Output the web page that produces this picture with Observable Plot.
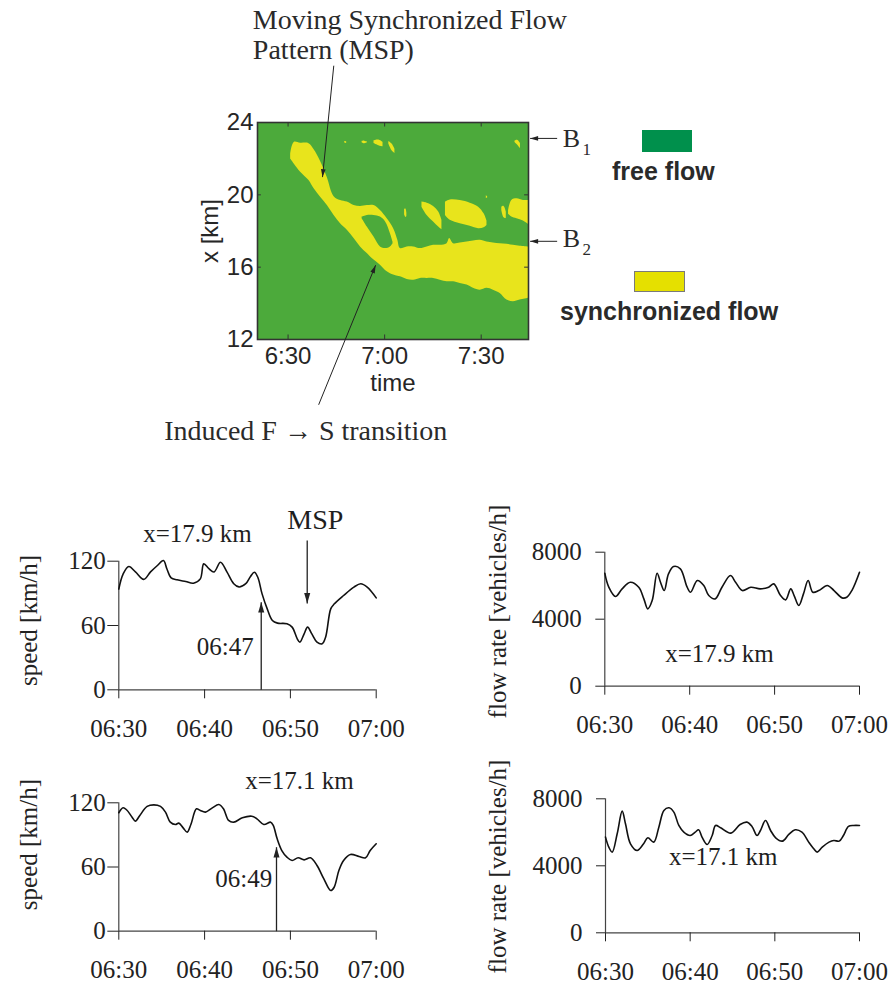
<!DOCTYPE html>
<html><head><meta charset="utf-8">
<script src="https://cdn.jsdelivr.net/npm/d3@7"></script>
<script src="https://cdn.jsdelivr.net/npm/@observablehq/plot@0.6"></script>
<style>
body{margin:0;background:#fff;}
#root{position:relative;width:893px;height:989px;overflow:hidden;background:#fff;}
.leg{position:absolute;font-family:"Liberation Sans",Arial,sans-serif;font-weight:bold;font-size:25px;color:#2a2a2a;white-space:nowrap;line-height:1;}
.sw{position:absolute;box-sizing:border-box;}
</style></head><body><div id="root"></div>
<script>
const SERIF = "Liberation Serif, Times New Roman, serif";
const SANS = "Liberation Sans, Arial, sans-serif";
const freeGreen = "#4caa3b";
const syncYellow = "#e8e41c";

// ---- space-time diagram (x: minutes after 06:00, y: road location km) ----
const heatTicks = [30, 60, 90];
const heatTickLabels = ["6:30", "7:00", "7:30"];
const kmTicks = [12, 16, 20, 24];
// main synchronized region (MSP + induced pattern): [minute, lower km, upper km]
const syncMain = [
  [30.8,21.98,22.26],[31.9,21.71,22.90],[33.9,21.25,22.85],[36.5,20.79,22.83],[38.1,20.33,22.50],
  [40.1,19.87,21.85],[42.2,19.41,20.95],[44.3,18.86,19.90],[46.3,18.40,19.69],[48.4,18.04,19.60],
  [50.5,17.58,19.41],[52.5,17.12,19.36],[54.6,16.75,19.41],[56.7,16.39,19.41],[58.7,16.11,19.14],
  [60.8,15.74,18.68],[62.8,15.56,18.13],[64.1,15.50,17.49],[64.9,15.47,17.03],[67.0,15.32,17.12],
  [69.0,15.28,17.12],[71.1,15.38,17.03],[73.2,15.38,17.12],[75.2,15.38,17.21],[77.3,15.28,17.21],
  [79.4,15.19,17.30],[80.2,15.19,17.58],[81.4,15.19,17.30],[83.5,15.10,17.34],[85.6,15.01,17.39],
  [87.6,14.83,17.45],[89.7,14.73,17.49],[91.8,14.83,17.39],[93.8,14.73,17.34],[95.9,14.55,17.30],
  [98.0,14.18,17.27],[100.0,14.09,17.21],[102.1,14.18,17.16],[104.7,14.28,17.12]
];
// free-flow island inside the synchronized region
const freeIsland = [
  [53.0,18.68,18.77],[54.6,18.22,18.86],[56.7,17.67,18.86],[58.7,17.12,18.77],
  [60.3,17.03,18.50],[61.8,17.12,17.85],[62.6,17.30,17.39]
];
// smaller synchronized patches: [id, minute, lower km, upper km]
const syncPatches = [
  ["a",71.6,19.32,19.60],["a",73.2,18.86,19.54],["a",75.2,18.50,19.36],["a",76.8,18.22,19.05],["a",77.8,18.07,18.59],
  ["b",78.9,18.86,19.60],["b",80.4,18.59,19.72],["b",83.5,18.40,19.69],["b",86.6,18.26,19.54],["b",89.2,18.13,19.32],["b",90.9,18.18,18.95],["b",91.8,18.31,18.55],
  ["c",98.5,18.92,19.10],["c",99.5,18.77,19.69],["c",101.1,18.68,19.78],["c",103.1,18.55,19.69],["c",104.7,18.37,19.69],
  ["d",96.4,19.14,19.32],["d",97.1,18.73,19.36],["d",97.8,18.68,19.05],
  ["e",66.2,18.90,19.20],["e",66.6,18.75,19.22],["e",66.9,18.80,19.00],
  ["f",91.6,19.80,19.95],["f",92.0,19.82,19.90],
  ["g",47.6,22.86,22.95],["g",48.2,22.84,22.94],
  ["h",53.0,22.88,22.95],["h",53.8,22.82,22.97],["h",54.6,22.86,22.93],
  ["i",56.7,22.84,22.99],["i",58.2,22.72,23.03],["i",59.5,22.66,22.90],
  ["j",61.3,22.81,22.95],["j",62.3,22.44,22.81],["j",63.2,22.29,22.53],
  ["k",100.5,22.90,22.98],["k",101.3,22.75,23.02],["k",102.2,22.55,22.85]
];
// annotation arrows [x1, y1, x2, y2] in (minute, km)
const heatArrows = [[44.2,27.14,40.7,20.98],[39.5,8.39,57.2,16.11],[113.6,23.12,105.2,23.12],[113.6,17.43,105.2,17.43]];
// annotation texts [text, minute, km (baseline), size]
const heatNotes = [
  ["Moving Synchronized Flow",19.06,29.19,28],["Pattern (MSP)",19.06,27.53,28],
  ["Induced F \u2192 S transition",-8.5,6.46,28],
  ["B",115.35,22.62,26],["1",121.5,22.18,17],["B",115.35,17.10,26],["2",121.5,16.66,17]
];

// ---- time series (x: minutes after 06:00) ----
const timeTicks = [30, 40, 50, 60];
const timeTickLabels = ["06:30","06:40","06:50","07:00"];
const speedTicks = [0, 60, 120];
const flowTicks = [0, 4000, 8000];
const speed179 = [[30,94],[30.5,108],[31.17,115],[31.94,110],[32.9,103],[33.7,110],[34.5,116],[35.2,120.6],[35.6,113],[36.1,104.5],[36.8,102.6],[37.8,101],[38.7,99.5],[39.5,103.5],[39.9,117.5],[40.5,113],[41.1,110],[41.85,119],[42.6,110],[43.4,99],[44.0,96],[44.8,99],[45.35,105.7],[45.8,109.7],[46.2,105],[46.7,89.5],[47.3,75.5],[47.9,64.7],[48.5,62.2],[49.6,61.6],[50.2,58.5],[50.8,47.6],[51.1,44.5],[51.6,52.2],[52.0,58.5],[52.5,52.2],[53.1,44.5],[53.7,42.9],[54.1,49],[54.7,75.5],[55.1,80],[56.2,88],[57.4,95.8],[58.2,98.9],[58.95,95.8],[60,85.8]];
const flow179 = [[30,6746],[30.47,5910],[31.26,5353],[32.04,5811],[33.0,6209],[34.0,5910],[34.6,5214],[35.06,4617],[35.58,5114],[36.16,6746],[36.56,6209],[37.0,5711],[37.5,6706],[38.1,7144],[38.9,7005],[39.7,5910],[40.1,5612],[40.9,6308],[41.66,6010],[42.25,5413],[43.0,5214],[43.8,5910],[44.8,6607],[45.4,6209],[46.2,5711],[47.2,5910],[48.3,5811],[49.3,5910],[49.9,6109],[50.7,5413],[51.3,5154],[51.9,5811],[52.3,5413],[52.85,4816],[53.4,5512],[53.95,6308],[54.5,5612],[55.2,5711],[56.2,6010],[57.0,5711],[57.95,5274],[58.5,5313],[59.1,5711],[60,6806]];
const speed171 = [[30,110.7],[30.5,115.3],[30.9,113.5],[31.55,106.6],[31.94,102.9],[32.45,108.2],[33.3,116.6],[34.08,118.1],[34.86,116.6],[35.44,111.3],[36.0,101.9],[36.6,99.7],[37.0,101],[37.5,96.6],[37.97,92.6],[38.4,99.7],[39.05,114.4],[39.5,112.8],[40.1,111.3],[40.9,115.3],[41.66,118.4],[42.2,114.4],[42.8,103.5],[43.4,101.9],[44.4,106],[45.5,107.5],[46.1,105],[46.9,99.7],[47.7,101.9],[48.0,98.8],[48.46,86.3],[49.0,75.4],[49.6,69.2],[50.2,66.1],[50.9,68.6],[51.6,66.7],[52.35,68.6],[53.1,61.4],[53.9,48.9],[54.7,38],[55.1,41.1],[55.65,56.7],[56.2,66.1],[57.0,71.7],[58.0,69.8],[58.76,68.6],[59.3,75.4],[60,81.7]];
const flow171 = [[30,5711],[30.39,5114],[30.79,4816],[31.38,5910],[31.97,7263],[32.36,6507],[32.95,5313],[33.74,4915],[34.5,5313],[35.0,5672],[35.7,5413],[36.3,6308],[36.9,7303],[37.5,7462],[38.07,7204],[38.66,6408],[39.25,6010],[40.0,5811],[40.6,6010],[41.0,6149],[41.4,5711],[42.0,5274],[42.6,5811],[43.0,6408],[43.6,6269],[44.8,5950],[45.9,6467],[46.7,6607],[47.3,6348],[47.9,5811],[48.3,6109],[48.9,6706],[49.5,6109],[50.1,5672],[50.9,5473],[51.65,5871],[52.4,6149],[53.2,6010],[54.0,5413],[54.6,5015],[55.0,4816],[55.6,5114],[56.4,5413],[56.97,5512],[57.6,5473],[58.1,5811],[58.7,6348],[59.3,6408],[60,6408]];

const root = document.getElementById("root");
function fixMarkers(svg){
  svg.querySelectorAll("marker").forEach(m => {
    const c = m.getAttribute("stroke") || "#222";
    m.setAttribute("fill", c); m.setAttribute("stroke", "none"); m.setAttribute("overflow", "visible");
    const p = m.querySelector("path"); if (p) p.setAttribute("d", "M-12,-3.5L0,0L-12,3.5Z");
  });
}
function place(el, left, top, w, h){
  const d = document.createElement("div");
  d.style.cssText = `position:absolute;left:${left}px;top:${top}px;width:${w}px;height:${h}px;`;
  d.appendChild(el); root.appendChild(d); fixMarkers(el);
}

// ---- top: space-time diagram ----
const heat = Plot.plot({
  width: 893, height: 450, marginLeft: 257, marginRight: 365, marginTop: 122, marginBottom: 111,
  style: {fontFamily: SANS, fontSize: "24px", color: "#262626", background: "transparent", overflow: "visible"},
  x: {domain: [20.5, 104.7]}, y: {domain: [12, 24]},
  marks: [
    Plot.frame({fill: freeGreen}),
    Plot.areaY(syncMain, {x: d => d[0], y1: d => d[1], y2: d => d[2], fill: syncYellow, curve: "catmull-rom"}),
    Plot.areaY(freeIsland, {x: d => d[0], y1: d => d[1], y2: d => d[2], fill: freeGreen, curve: "catmull-rom"}),
    Plot.areaY(syncPatches, {x: d => d[1], y1: d => d[2], y2: d => d[3], z: d => d[0], fill: syncYellow, curve: "catmull-rom"}),
    Plot.ruleX(heatTicks, {y1: 24, y2: 23.75, stroke: "#333"}),
    Plot.ruleX(heatTicks, {y1: 12, y2: 12.25, stroke: "#333"}),
    Plot.ruleY([16, 20], {x1: 20.5, x2: 21.7, stroke: "#333"}),
    Plot.ruleY([16, 20], {x1: 104.7, x2: 103.5, stroke: "#333"}),
    Plot.frame({stroke: "#333", strokeWidth: 1.6}),
    Plot.axisX(heatTicks, {tickFormat: d => heatTickLabels[heatTicks.indexOf(d)], tickSize: 0, tickPadding: 7, label: null, fontFamily: SANS, fontSize: 24}),
    Plot.axisY(kmTicks, {tickSize: 0, tickPadding: 4, label: null, fontFamily: SANS, fontSize: 24}),
    Plot.text(["time"], {text: d => d, frameAnchor: "bottom", dy: 44, lineAnchor: "middle", textAnchor: "middle", fontFamily: SANS, fontSize: 24}),
    Plot.text(["x [km]"], {text: d => d, frameAnchor: "left", dx: -47, rotate: -90, textAnchor: "middle", lineAnchor: "middle", fontFamily: SANS, fontSize: 24}),
    Plot.link(heatArrows, {x1: d => d[0], y1: d => d[1], x2: d => d[2], y2: d => d[3], stroke: "#222", strokeWidth: 1, markerEnd: "arrow"}),
    Plot.text(heatNotes, {text: d => d[0], x: d => d[1], y: d => d[2], fontSize: d => d[3], fontFamily: SERIF, textAnchor: "start", lineAnchor: "bottom", fill: "#2a2a2a"})
  ]
});
place(heat, 0, 0, 893, 450);

// legend (HTML)
root.insertAdjacentHTML("beforeend", `
<div class="sw" style="left:642px;top:130px;width:50px;height:22px;background:#00904c"></div>
<div class="leg" style="left:612px;top:159px">free flow</div>
<div class="sw" style="left:634px;top:271px;width:51px;height:21px;background:#e5e000;border:1px solid #7a7a7a"></div>
<div class="leg" style="left:560px;top:299px">synchronized flow</div>`);

// ---- bottom: time series ----
function notes(arr){
  return ["start", "middle", "end"].map(a => Plot.text(arr.filter(d => d[3] === a),
    {text: d => d[0], x: d => d[1], y: d => d[2], fontSize: d => d[4], textAnchor: a, lineAnchor: "middle", fontFamily: SERIF, fill: "#1e1e1e"}));
}
function lineChart(o){
  return Plot.plot({
    width: o.w, height: o.h, marginLeft: o.ml, marginRight: o.mr, marginTop: o.mt, marginBottom: o.mb,
    style: {fontFamily: SERIF, fontSize: "25px", color: "#222", background: "transparent", overflow: "visible"},
    x: {domain: [30, 60]}, y: {domain: o.yDomain},
    marks: [
      Plot.ruleY([0], {stroke: "#444", strokeWidth: 1.2}),
      Plot.ruleX([30], {stroke: "#444", strokeWidth: 1.2}),
      Plot.axisX(timeTicks, {tickFormat: d => timeTickLabels[timeTicks.indexOf(d)], tickSize: 9, tickPadding: 20, label: null, fontFamily: SERIF, fontSize: 25}),
      Plot.axisY(o.yTicks, {tickFormat: d => String(d), tickSize: o.yts, tickPadding: o.ytp, label: null, fontFamily: SERIF, fontSize: 25}),
      Plot.line(o.data, {x: d => d[0], y: d => d[1], curve: "catmull-rom", stroke: "#111", strokeWidth: 1.6}),
      Plot.text([o.label], {text: d => d[0], y: d => d[1], frameAnchor: "left", dx: o.ldx, rotate: -90, textAnchor: "middle", lineAnchor: "middle", fontFamily: SERIF, fontSize: 25}),
      ...(o.extra || [])
    ]
  });
}
const arrowOpts = {x1: d => d[0], y1: d => d[1], x2: d => d[2], y2: d => d[3], stroke: "#222", strokeWidth: 1.3, markerEnd: "arrow"};

const c1 = lineChart({w: 440, h: 260, ml: 118.3, mr: 64.3, mt: 80.7, mb: 50.7, yDomain: [0, 120], yTicks: speedTicks, yts: 11, ytp: 2,
  data: speed179, label: ["speed [km/h]", 64.7], ldx: -90,
  extra: [
    Plot.link([[51.96,139.3,51.96,80.6],[46.6,0,46.6,81.8]], arrowOpts),
    ...notes([["x=17.9 km",39.17,145.8,"middle",25],["MSP",52.9,158,"middle",28],["06:47",45.73,39.8,"end",25]])
  ]});
place(c1, 0, 480, 440, 260);

const c2 = lineChart({w: 453, h: 260, ml: 164.3, mr: 34, mt: 71.7, mb: 54.3, yDomain: [0, 8000], yTicks: flowTicks, yts: 9, ytp: 14,
  data: flow179, label: ["flow rate [vehicles/h]", 4460], ldx: -107,
  extra: notes([["x=17.9 km",43.5,1952,"middle",25]])});
place(c2, 440, 480, 453, 260);

const c3 = lineChart({w: 440, h: 244, ml: 118.3, mr: 64.3, mt: 57.3, mb: 58.3, yDomain: [0, 120], yTicks: speedTicks, yts: 11, ytp: 2,
  data: speed171, label: ["speed [km/h]", 81], ldx: -90,
  extra: [
    Plot.link([[48.38,0,48.38,78.5]], arrowOpts),
    ...notes([["x=17.1 km",51.06,140.8,"middle",25],["06:49",47.88,49,"end",25]])
  ]});
place(c3, 0, 745, 440, 244);

const c4 = lineChart({w: 453, h: 244, ml: 165, mr: 34, mt: 53.3, mb: 56.7, yDomain: [0, 8000], yTicks: flowTicks, yts: 9, ytp: 14,
  data: flow171, label: ["flow rate [vehicles/h]", 3958], ldx: -108,
  extra: notes([["x=17.1 km",43.9,4496,"middle",25]])});
place(c4, 440, 745, 453, 244);
</script></body></html>
